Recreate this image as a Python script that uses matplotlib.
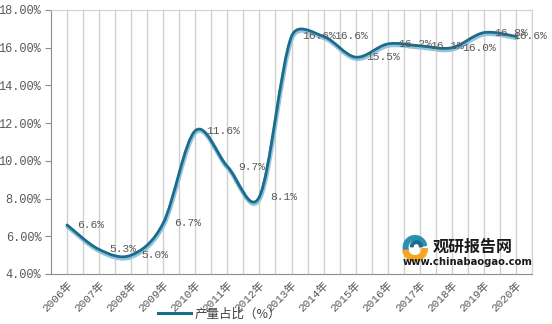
import numpy as np
import matplotlib
matplotlib.use("Agg")
import matplotlib.pyplot as plt
from matplotlib.path import Path
from matplotlib.patches import PathPatch, Wedge
from matplotlib.lines import Line2D
from matplotlib.transforms import offset_copy

years = ["2006年", "2007年", "2008年", "2009年", "2010年", "2011年", "2012年", "2013年",
         "2014年", "2015年", "2016年", "2017年", "2018年", "2019年", "2020年"]
share = [6.6, 5.3, 5.0, 6.7, 11.6, 9.7, 8.1, 16.6, 16.6, 15.5, 16.2, 16.1, 16.0, 16.8, 16.6]
y_ticks = [4, 6, 8, 10, 12, 14, 16, 18]
legend_label = "产量占比（%）"

NUM_FONT = ["Liberation Mono", "Noto Sans CJK SC"]
TEXT_GREY = "#595959"
LINE_DARK = "#1d6b8c"
LINE_LIGHT = "#92c4dc"


def smooth_path(xs, ys, sx, sy):
    """Excel-like smoothed Bezier path through the points (sx, sy: px per unit)."""
    pts = np.column_stack([xs, ys]).astype(float)
    scale = np.array([sx, sy])
    n = len(pts)
    verts = [pts[0]]
    codes = [Path.MOVETO]
    for i in range(n - 1):
        p0 = pts[max(i - 1, 0)]
        p1 = pts[i]
        p2 = pts[i + 1]
        p3 = pts[min(i + 2, n - 1)]
        d12 = np.hypot(*((p2 - p1) * scale))
        d02 = np.hypot(*((p2 - p0) * scale))
        d13 = np.hypot(*((p3 - p1) * scale))
        f0 = 1 / 6
        f1 = 1 / 6
        if d02 > 0 and d02 / 6 > d12 / 2:
            f0 = d12 / 2 / d02
        if d13 > 0 and d13 / 6 > d12 / 2:
            f1 = d12 / 2 / d13
        c1 = p1 + (p2 - p0) * f0
        c2 = p2 - (p3 - p1) * f1
        verts += [c1, c2, p2]
        codes += [Path.CURVE4] * 3
    return Path(verts, codes)


fig = plt.figure(figsize=(5.52, 3.24), dpi=100)
ax = fig.add_axes([51 / 552, 1 - 274 / 324, 481 / 552, 264 / 324])

x = np.arange(len(years))
ax.set_xlim(-0.5, len(years) - 0.5)
ax.set_ylim(4, 18)

# vertical grid lines at every half category
for gx in np.arange(-0.5, len(years), 0.5)[1:]:
    ax.axvline(gx, color="#cfcfcf", lw=1, zorder=0)

path = smooth_path(x, share, 32.0, 18.86)
shadow = PathPatch(path, fill=False, edgecolor=LINE_LIGHT, lw=3.2, capstyle="round",
                   transform=offset_copy(ax.transData, fig, x=0.5, y=-1.6, units="dots"), zorder=2)
line = PathPatch(path, fill=False, edgecolor=LINE_DARK, lw=2.0, capstyle="round", zorder=3)
ax.add_patch(shadow)
ax.add_patch(line)

for i, (xi, v) in enumerate(zip(x, share)):
    # the last label is pulled back so it stays inside the chart
    dx = 7.5 if i < len(share) - 1 else -2
    ax.annotate(f"{v:.1f}%", (xi, v), xytext=(dx, 0), textcoords="offset points",
                ha="left", va="center", fontsize=8.1, color=TEXT_GREY, family=NUM_FONT,
                zorder=4, annotation_clip=False)

ax.set_yticks(y_ticks)
ax.set_yticklabels([f"{t:.2f}%" for t in y_ticks], family=NUM_FONT, fontsize=8.6, color=TEXT_GREY)
ax.set_xticks(x)
ax.set_xticklabels(years, rotation=45, ha="right", va="top", rotation_mode="anchor",
                   family=NUM_FONT, fontsize=8, color=TEXT_GREY)
ax.tick_params(axis="y", length=4, color="#8c8c8c", pad=3)
ax.tick_params(axis="x", length=0, pad=4)

for side in ["left", "bottom"]:
    ax.spines[side].set_color("#8c8c8c")
for side in ["top", "right"]:
    ax.spines[side].set_color("#d0d0d0")

handle = Line2D([], [], color=LINE_DARK, lw=2.2)
fig.legend([handle], [legend_label], loc="center left", bbox_to_anchor=(152 / 552, 10 / 324),
           frameon=False, handlelength=2.6, handletextpad=0.3, borderpad=0,
           prop={"family": ["Noto Sans CJK SC"], "size": 9}, labelcolor="#404040")

# watermark
logo = fig.add_axes([402 / 552, 1 - 261 / 324, 26 / 552, 26 / 324])
logo.set_xlim(-1, 1)
logo.set_ylim(-1, 1)
logo.set_aspect("equal")
logo.axis("off")
logo.add_patch(Wedge((0, 0.05), 0.9, 10, 200, width=0.35, color="#2a8fb0"))
logo.add_patch(Wedge((0, -0.05), 0.95, 190, 360, width=0.4, color="#f5a623"))
logo.add_patch(Wedge((0.1, 0.1), 0.45, 0, 180, width=0.2, color="#1d6b8c"))
fig.text(433 / 552, 1 - 247 / 324, "观研报告网", family=["Noto Sans CJK SC"], fontsize=11.5,
         weight="bold", color="#1a1a1a", va="center", ha="left")
fig.text(403 / 552, 1 - 262 / 324, "www.chinabaogao.com", family=["DejaVu Sans"], fontsize=7.2,
         weight="bold", color="#1a1a1a", va="center", ha="left")

fig.savefig("out.png", dpi=100)
